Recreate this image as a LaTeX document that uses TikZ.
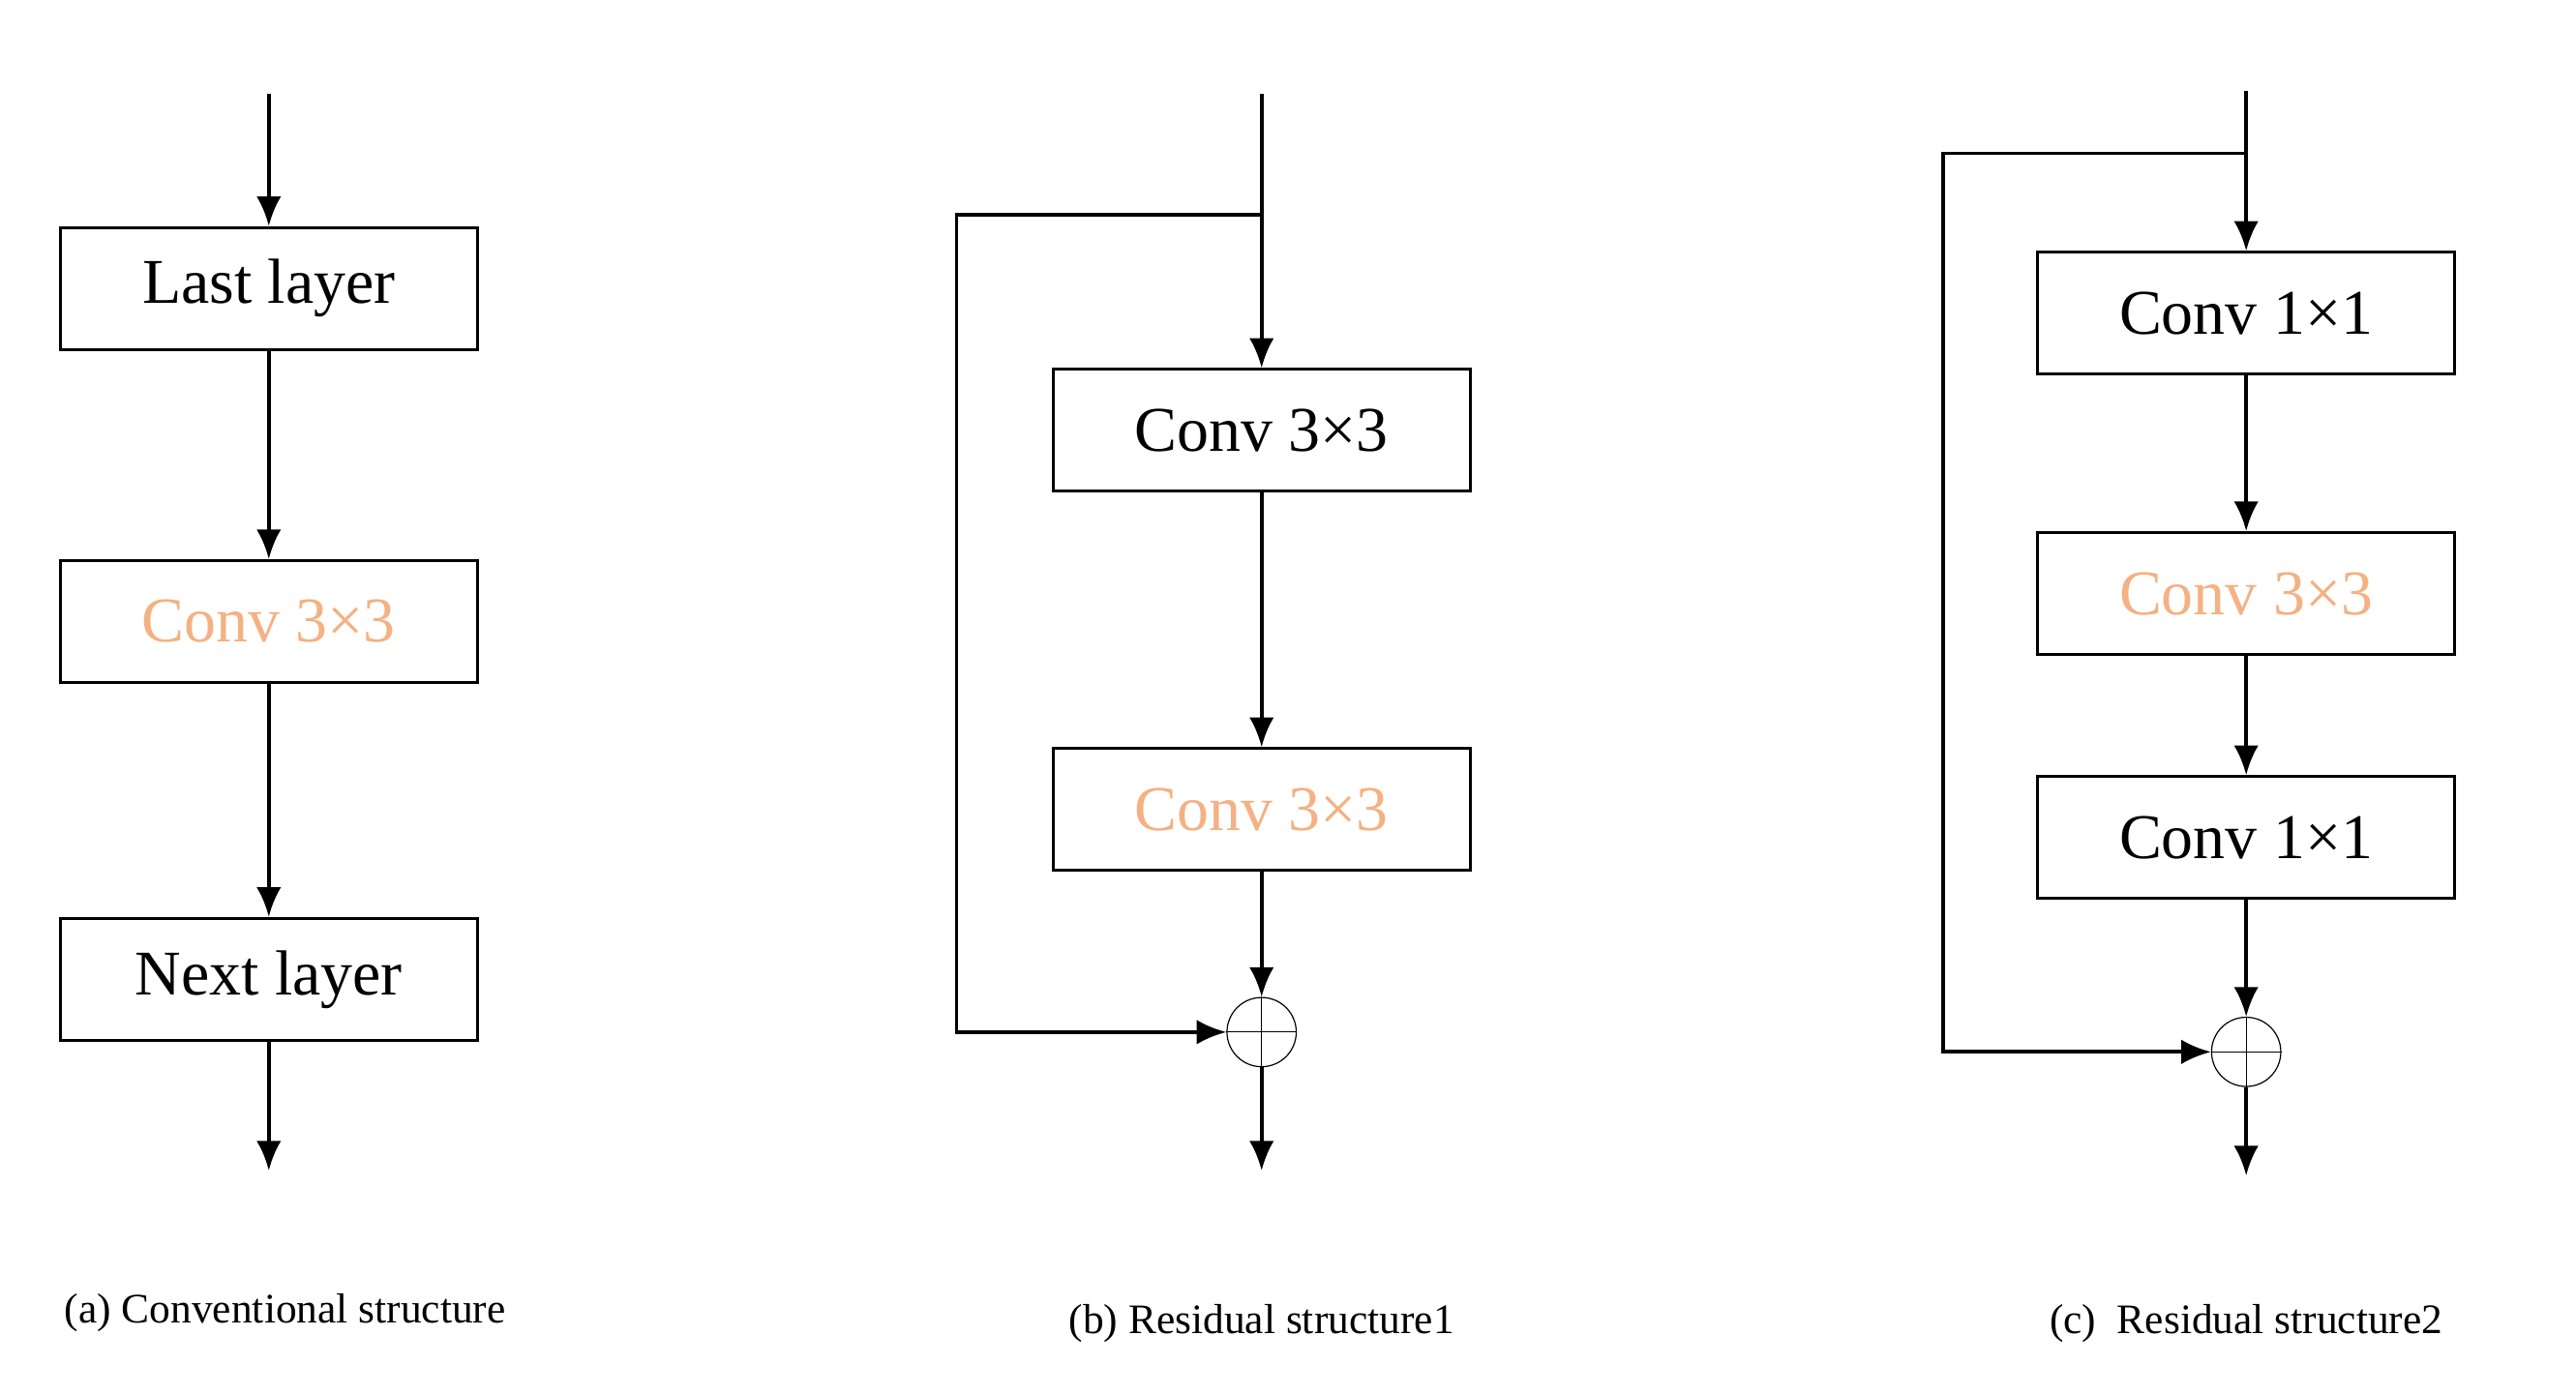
\documentclass[tikz,border=0pt]{standalone}
\usepackage{fontspec}
\setmainfont{Liberation Serif}
\usetikzlibrary{arrows.meta, positioning}
\definecolor{convorange}{RGB}{244,177,131}
\begin{document}
\begin{tikzpicture}[
    x=0.02cm, y=-0.02cm,
    every node/.append style = {font=\fontsize{22}{26}\selectfont},
    layer/.style = {draw, line width=1pt, minimum width=5.06cm, minimum height=1.48cm, inner sep=0pt},
    hot/.style = {layer, text=convorange},
    flow/.style = {line width=1.3pt, -{Latex[length=3.6mm, width=3mm]}},
    sum/.style = {draw, circle, minimum size=0.84cm, inner sep=0pt},
    caption/.style = {font=\fontsize{14.5}{17}\selectfont}
  ]
  \useasboundingbox (0,0) rectangle (1562,846);
  % (a) conventional
  \coordinate (ain) at (163,57);
  \node[layer] (last) at (163,175) {Last layer};
  \node[hot] (aconv) at (163,377) {Conv 3×3};
  \node[layer] (next) at (163,594) {Next layer};
  \coordinate (aout) at (163,710);
  \draw[flow] (ain) -- (last);
  \draw[flow] (last) -- (aconv);
  \draw[flow] (aconv) -- (next);
  \draw[flow] (next) -- (aout);
  \node[caption, anchor=west] (acap) at (33,796) {(a) Conventional structure};
  % (b) residual 1
  \coordinate (bin) at (765,57);
  \coordinate (bsplit) at (765,130);
  \coordinate (bleft) at (580,130);
  \coordinate (bdown) at (580,626);
  \node[layer] (bconv) at (765,261) {Conv 3×3};
  \node[hot] (bhot) at (765,491) {Conv 3×3};
  \node[sum] (bsum) at (765,626) {};
  \draw[thin] (bsum.north) -- (bsum.south) (bsum.west) -- (bsum.east);
  \coordinate (bout) at (765,710);
  \draw[flow] (bin) -- (bconv);
  \draw[flow] (bconv) -- (bhot);
  \draw[flow] (bhot) -- (bsum);
  \draw[flow] (bsum) -- (bout);
  \draw[flow] (bsplit) -- (bleft) -- (bdown) -- (bsum);
  \node[caption] (bcap) at (765,803) {(b) Residual structure1};
  % (c) residual 2
  \coordinate (cin) at (1362,55);
  \coordinate (csplit) at (1362,93);
  \coordinate (cleft) at (1178,93);
  \coordinate (cdown) at (1178,638);
  \node[layer] (cfirst) at (1362,190) {Conv 1×1};
  \node[hot] (chot) at (1362,360) {Conv 3×3};
  \node[layer] (clast) at (1362,508) {Conv 1×1};
  \node[sum] (csum) at (1362,638) {};
  \draw[thin] (csum.north) -- (csum.south) (csum.west) -- (csum.east);
  \coordinate (cout) at (1362,713);
  \draw[flow] (cin) -- (cfirst);
  \draw[flow] (cfirst) -- (chot);
  \draw[flow] (chot) -- (clast);
  \draw[flow] (clast) -- (csum);
  \draw[flow] (csum) -- (cout);
  \draw[flow] (csplit) -- (cleft) -- (cdown) -- (csum);
  \node[caption] (ccap) at (1362,803) {(c)~~Residual structure2};
\end{tikzpicture}
\end{document}
